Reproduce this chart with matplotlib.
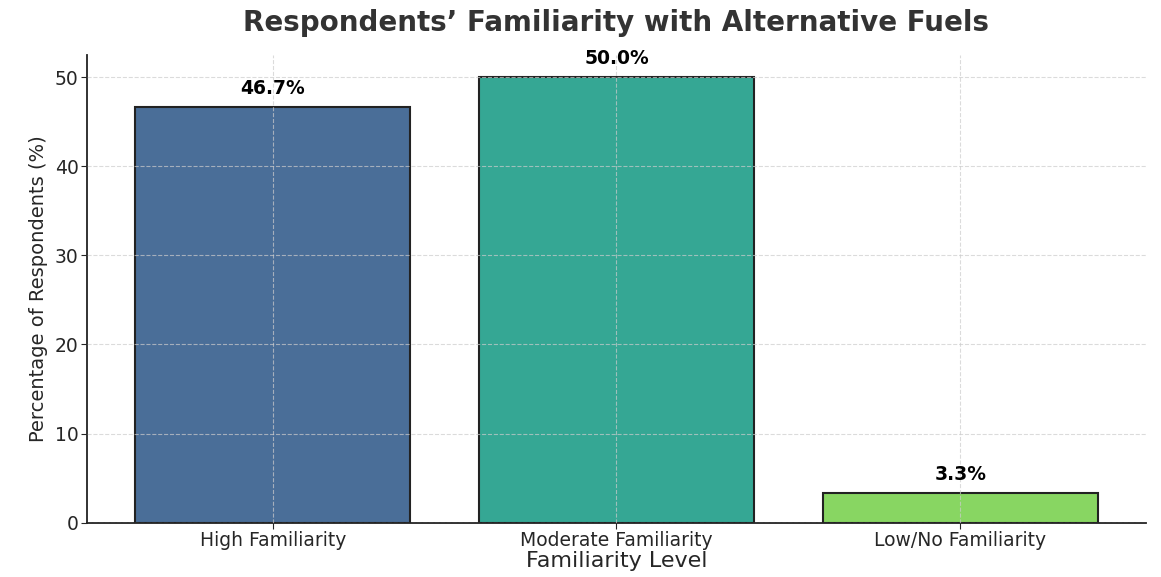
import os
import matplotlib
matplotlib.use("Agg")
import matplotlib.pyplot as plt
from matplotlib.font_manager import FontProperties
import seaborn as sns

#%% data
levels = ["High Familiarity", "Moderate Familiarity", "Low/No Familiarity"]
shares = [46.7, 50.0, 3.3]
bar_colors = ["#4a6e98", "#35a794", "#88d662"]

ttf_dir = os.path.join(matplotlib.get_data_path(), "fonts", "ttf")
def dv(size, bold=False):
    f = "DejaVuSans-Bold.ttf" if bold else "DejaVuSans.ttf"
    return FontProperties(fname=os.path.join(ttf_dir, f), size=size)

sns.set_style("ticks")

#%% plot
fig, ax = plt.subplots(figsize=(11.61, 5.77), dpi=100)
fig.subplots_adjust(left=0.075, right=0.987, top=0.905, bottom=0.094)

bars = ax.bar(levels, shares, width=0.8, color=bar_colors,
              edgecolor="#222222", linewidth=1.5)

for b, v in zip(bars, shares):
    ax.text(b.get_x() + b.get_width() / 2, v + 1, "%.1f%%" % v,
            ha="center", va="bottom", fontproperties=dv(13.5, True), color="black")

ax.set_title("Respondents\u2019 Familiarity with Alternative Fuels",
             fontproperties=dv(20, True), color="#333333", pad=17)
ax.set_xlabel("Familiarity Level", fontproperties=dv(16), color="#262626", labelpad=1)
ax.set_ylabel("Percentage of Respondents (%)", fontproperties=dv(14), color="#262626",
              labelpad=5)
ax.tick_params(colors="#262626", length=4, pad=2)
for lab in ax.get_xticklabels() + ax.get_yticklabels():
    lab.set_fontproperties(dv(13.5))
ax.grid(True, linestyle="--", color="#cccccc", alpha=0.7)
ax.set_axisbelow(False)
sns.despine(ax=ax)
for s in ax.spines.values():
    s.set_linewidth(1.3)
    s.set_color("#222222")

fig.savefig("out.png", dpi=100)
